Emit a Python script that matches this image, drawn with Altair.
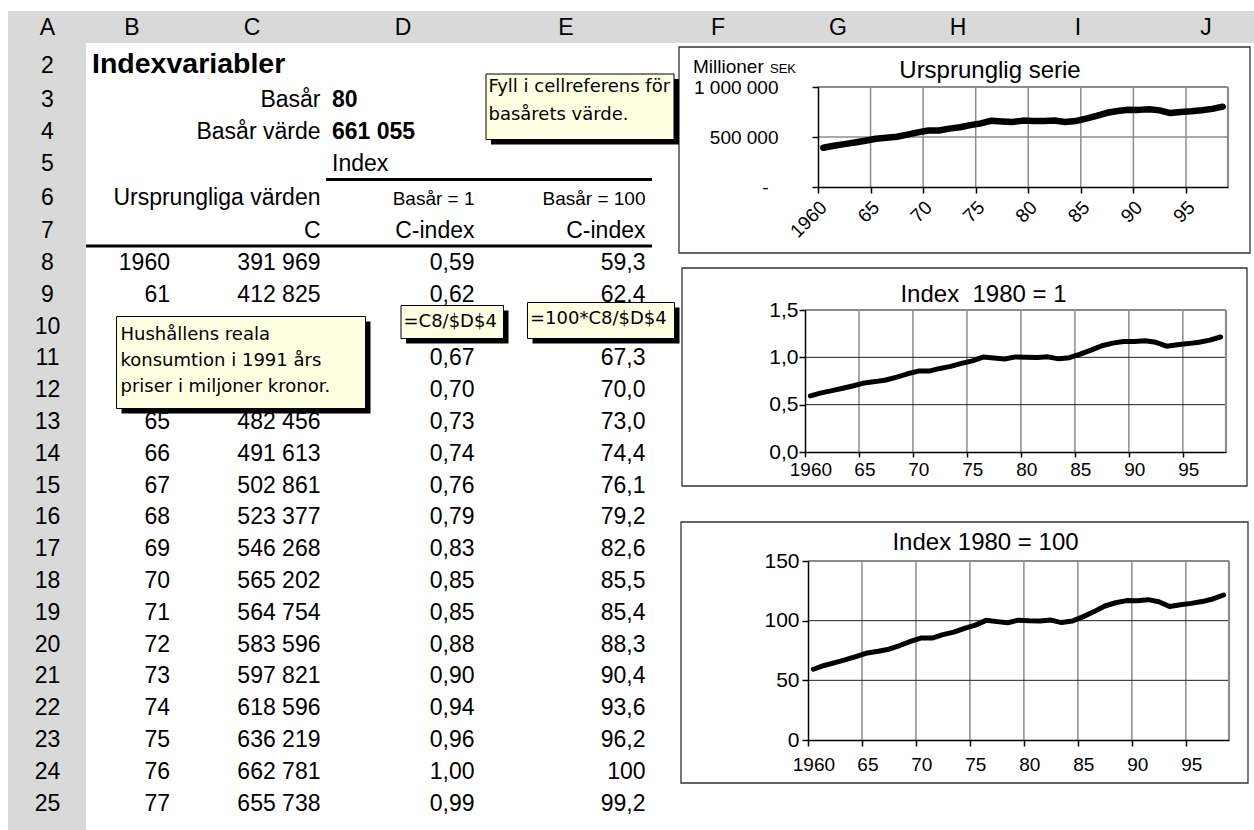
import altair as alt
import pandas as pd

W, H = 1254, 830
SANS = "Liberation Sans"
NOTE = "DejaVu Sans"

# ---------------------------------------------------------------- data
years = list(range(1960, 1999))
consumption = [391969, 412825, 428700, 444870, 462750, 482456, 491613, 502861,
               523377, 546268, 565202, 564754, 583596, 597821, 618596, 636219,
               662781, 655738, 649800, 664000, 661055, 659500, 664300, 650400,
               658900, 683500, 711300, 742300, 760200, 772100, 771200, 777400,
               766200, 739100, 749600, 756900, 766800, 781300, 803200]
base_year = 1980
base_value = consumption[years.index(base_year)]
index_1 = [v / base_value for v in consumption]
index_100 = [100 * v / base_value for v in consumption]

column_letters = list("ABCDEFGHIJ")
sheet_rows = list(range(2, 26))
first_data_row = 8
shown_years = years[: sheet_rows[-1] - first_data_row + 1]

sheet_title = "Indexvariabler"
label_base_year = "Basår"
label_base_value = "Basår värde"
label_index = "Index"
label_original = "Ursprungliga värden"
label_series = "C"
label_index_col = "C-index"
label_scale_1 = "Basår = 1"
label_scale_100 = "Basår = 100"

note_base = ["Fyll i cellreferens för", "basårets värde."]
note_series = ["Hushållens reala", "konsumtion i 1991 års", "priser i miljoner kronor."]
note_formula_1 = ["=C8/$D$4"]
note_formula_100 = ["=100*C8/$D$4"]

chart_titles = ["Ursprunglig serie", "Index\u00a0 1980 = 1", "Index 1980 = 100"]
unit_main, unit_small = "Millioner", "SEK"
tick_years = years[::5]
end_year = years[-1] + 1


def thousands(v):
    return f"{v:,}".replace(",", " ")


def dec2(v):
    return f"{v:.2f}".replace(".", ",")


def sig3(v):
    return f"{v:#.3g}".rstrip(".").replace(".", ",")


# -------------------------------------------------------------- layout
col_center = dict(zip(column_letters, [47.5, 132, 252, 403, 566, 718, 838, 958, 1078, 1206]))
col_right = {"B": 170, "C": 320.5, "D": 474.5, "E": 645.5}
col_left_D = 332
title_left = 92
fixed_base = {2: 73, 3: 107, 4: 138.5, 5: 171, 6: 205, 7: 238}
header_y = 35
BODY = 23

# sheet cells that sit underneath the cell comments
covered = {("B", 10), ("C", 10), ("B", 11), ("C", 11), ("B", 12), ("C", 12),
           ("D", 10), ("E", 10)}


def row_y(r):
    return fixed_base.get(r, 270 + (r - first_data_row) * 31.8)


def px(field):
    return alt.X(field, type="quantitative", axis=None,
                 scale=alt.Scale(domain=[0, W], range=[0, W], nice=False, zero=False))


def py(field):
    return alt.Y(field, type="quantitative", axis=None,
                 scale=alt.Scale(domain=[0, H], range=[0, H], nice=False, zero=False))


def text_layer(rows, align, weight="normal", font=SANS):
    df = pd.DataFrame(rows)
    return alt.Chart(df).mark_text(
        align=align, baseline="alphabetic", font=font, fontWeight=weight, color="black"
    ).encode(x=px("x"), y=py("y"), text="text:N",
             size=alt.Size("size:Q", scale=None, legend=None))


def rect_layer(rows, fill, stroke=None, width=0):
    df = pd.DataFrame(rows, columns=["x", "y", "x2", "y2"])
    kw = dict(fill=fill)
    if stroke:
        kw.update(stroke=stroke, strokeWidth=width)
    return alt.Chart(df).mark_rect(**kw).encode(x=px("x"), x2="x2", y=py("y"), y2="y2")


def rule_layer(rows, color, width):
    df = pd.DataFrame(rows, columns=["x", "y", "x2", "y2"])
    return alt.Chart(df).mark_rule(color=color, strokeWidth=width).encode(
        x=px("x"), x2="x2", y=py("y"), y2="y2")


# ------------------------------------------------------- sheet contents
right_rows = [
    dict(x=col_right["C"], y=row_y(3), text=label_base_year, size=BODY),
    dict(x=col_right["C"], y=row_y(4), text=label_base_value, size=BODY),
    dict(x=col_right["C"], y=row_y(6), text=label_original, size=BODY),
    dict(x=col_right["C"], y=row_y(7), text=label_series, size=BODY),
    dict(x=col_right["D"], y=row_y(7), text=label_index_col, size=BODY),
    dict(x=col_right["E"], y=row_y(7), text=label_index_col, size=BODY),
    dict(x=col_right["D"], y=row_y(6), text=label_scale_1, size=19),
    dict(x=col_right["E"], y=row_y(6), text=label_scale_100, size=19),
]
for i, yr in enumerate(shown_years):
    r = first_data_row + i
    cells = {
        "B": str(yr) if i == 0 else f"{yr % 100:02d}",
        "C": thousands(consumption[i]),
        "D": dec2(index_1[i]),
        "E": sig3(index_100[i]),
    }
    for col, txt in cells.items():
        if (col, r) not in covered:
            right_rows.append(dict(x=col_right[col], y=row_y(r), text=txt, size=BODY))

bold_rows = [
    dict(x=title_left, y=row_y(2), text=sheet_title, size=28.5),
    dict(x=col_left_D, y=row_y(3), text=str(base_year % 100), size=BODY),
    dict(x=col_left_D, y=row_y(4), text=thousands(base_value), size=BODY),
]
left_rows = [dict(x=col_left_D, y=row_y(5), text=label_index, size=BODY)]

center_rows = [dict(x=col_center[c], y=header_y, text=c, size=BODY) for c in column_letters]
center_rows += [dict(x=col_center["A"], y=row_y(r), text=str(r), size=BODY) for r in sheet_rows]

layers = [
    rect_layer([(8, 11, W, 43), (8, 11, 86, H)], "#d9d9d9"),
    text_layer(right_rows, "right"),
    text_layer(bold_rows, "left", "bold"),
    text_layer(left_rows, "left"),
    text_layer(center_rows, "center"),
    rule_layer([(326, 179.5, 652, 179.5), (86, 246, 652, 246)], "black", 3),
    rect_layer([(679, 47, 1250, 253), (682, 268, 1247, 486), (681, 522, 1248, 783)],
               "white", "#333333", 1.3),
]

# ---------------------------------------------------------------- charts
panels = [
    dict(series=consumption, xr=[818, 1228], yr=[187, 87], ymax=1_000_000,
         yvals=[0, 500_000, 1_000_000],
         ylabel="datum.value == 0 ? '-' : replace(replace(format(datum.value, ','), ',', ' '), ',', ' ')",
         yfont=19,
         ypad={"condition": {"test": "datum.value == 0", "value": 44}, "value": 34},
         hcolor="#8c8c8c", hwidth=1.5, lw=6.5,
         angle=-45, xalign="right", xbase="middle", xpad=11, xtick=6,
         title=chart_titles[0], tx=990, ty=78),
    dict(series=index_1, xr=[805, 1226], yr=[452, 310], ymax=1.5,
         yvals=[0, 0.5, 1.0, 1.5],
         ylabel="replace(format(datum.value, '.1f'), '.', ',')",
         yfont=21, ypad=1, hcolor="#222222", hwidth=1, lw=5,
         angle=0, xalign="center", xbase="top", xpad=3, xtick=5,
         title=chart_titles[1], tx=983.5, ty=302),
    dict(series=index_100, xr=[808, 1229], yr=[740, 561], ymax=150,
         yvals=[0, 50, 100, 150],
         ylabel="format(datum.value, 'd')",
         yfont=21, ypad=3, hcolor="#222222", hwidth=1, lw=5,
         angle=0, xalign="center", xbase="top", xpad=9, xtick=6,
         title=chart_titles[2], tx=985.5, ty=550),
]

chart_text = [dict(x=p["tx"], y=p["ty"], text=p["title"], size=24) for p in panels]
layers.append(text_layer(chart_text, "center"))
layers.append(text_layer([dict(x=693, y=73, text=unit_main, size=19),
                          dict(x=770, y=73, text=unit_small, size=13)], "left"))

for p in panels:
    xs = alt.Scale(domain=[years[0], end_year], range=p["xr"], nice=False, zero=False)
    ys = alt.Scale(domain=[0, p["ymax"]], range=p["yr"], nice=False, zero=False)
    ymax = p["ymax"]

    grid_v = pd.DataFrame({"x": tick_years[1:], "x2": tick_years[1:], "y": 0.0, "y2": ymax})
    grid_h = pd.DataFrame({"x": years[0], "x2": end_year, "y": p["yvals"][1:-1], "y2": p["yvals"][1:-1]})
    frame = pd.DataFrame({"x": [years[0], end_year], "x2": [end_year, end_year],
                          "y": [ymax, 0.0], "y2": [ymax, ymax]})

    def rules(df, color, width):
        return alt.Chart(df).mark_rule(color=color, strokeWidth=width).encode(
            x=alt.X("x:Q", scale=xs, axis=None), x2="x2:Q",
            y=alt.Y("y:Q", scale=ys, axis=None), y2="y2:Q")

    layers.append(rules(grid_v, "#8c8c8c", 1.5))
    layers.append(rules(grid_h, p["hcolor"], p["hwidth"]))
    layers.append(rules(frame, "#8c8c8c", 2.2))

    half = (p["xr"][1] - p["xr"][0]) / len(years) / 2
    x_axis = alt.Axis(
        orient="bottom", offset=p["yr"][0] - H, values=tick_years, title=None, grid=False,
        labelExpr=f"datum.value == {years[0]} ? '{years[0]}' : '' + (datum.value % 100)",
        labelOffset=half, labelAngle=p["angle"], labelAlign=p["xalign"],
        labelBaseline=p["xbase"], labelPadding=p["xpad"], labelFontSize=19, labelFont=SANS,
        labelColor="black", labelFlush=False, labelOverlap=False,
        tickSize=p["xtick"], tickColor="black", tickWidth=1.5,
        domainColor="black", domainWidth=1.5, zindex=1)
    y_axis = alt.Axis(
        orient="left", offset=-p["xr"][0], values=p["yvals"], title=None, grid=False,
        labelExpr=p["ylabel"], labelPadding=p["ypad"], labelFontSize=p["yfont"], labelFont=SANS,
        labelColor="black", labelFlush=False, labelOverlap=False,
        tickSize=6, tickColor="black", tickWidth=1.5,
        domainColor="black", domainWidth=1.5, zindex=1)

    df = pd.DataFrame({"year": years, "value": p["series"]})
    layers.append(
        alt.Chart(df).transform_calculate(xc="datum.year + 0.5").mark_line(
            color="black", strokeWidth=p["lw"], strokeCap="round", strokeJoin="round"
        ).encode(x=alt.X("xc:Q", scale=xs, axis=x_axis),
                 y=alt.Y("value:Q", scale=ys, axis=y_axis))
    )

# ------------------------------------------------------------- comments
notes = [
    (note_base, (486, 74, 674, 139.5), 488.5, 91.5, 28.5),
    (note_series, (116.5, 316.5, 365.5, 408.5), 120.5, 340, 26),
    (note_formula_1, (401, 305.5, 503.5, 338.5), 403.5, 326.5, 0),
    (note_formula_100, (527.5, 302.5, 674.5, 338.5), 530, 323.5, 0),
]
shadow = 5
layers.append(rect_layer([(x0 + shadow, y0 + shadow, x1 + shadow, y1 + shadow)
                          for _, (x0, y0, x1, y1), *_ in notes], "black"))
layers.append(rect_layer([box for _, box, *_ in notes], "#ffffe1", "black", 1))
note_rows = []
for lines, _, tx, ty, step in notes:
    for k, line in enumerate(lines):
        note_rows.append(dict(x=tx, y=ty + k * step, text=line, size=18))
layers.append(text_layer(note_rows, "left", font=NOTE))

chart = (
    alt.layer(*layers)
    .resolve_scale(x="independent", y="independent", size="independent")
    .properties(width=W, height=H, padding=0, background="white",
                autosize=alt.AutoSizeParams(type="none"))
    .configure_view(stroke=None)
)

chart.save("out.html", embed_options={"renderer": "svg", "actions": False})
